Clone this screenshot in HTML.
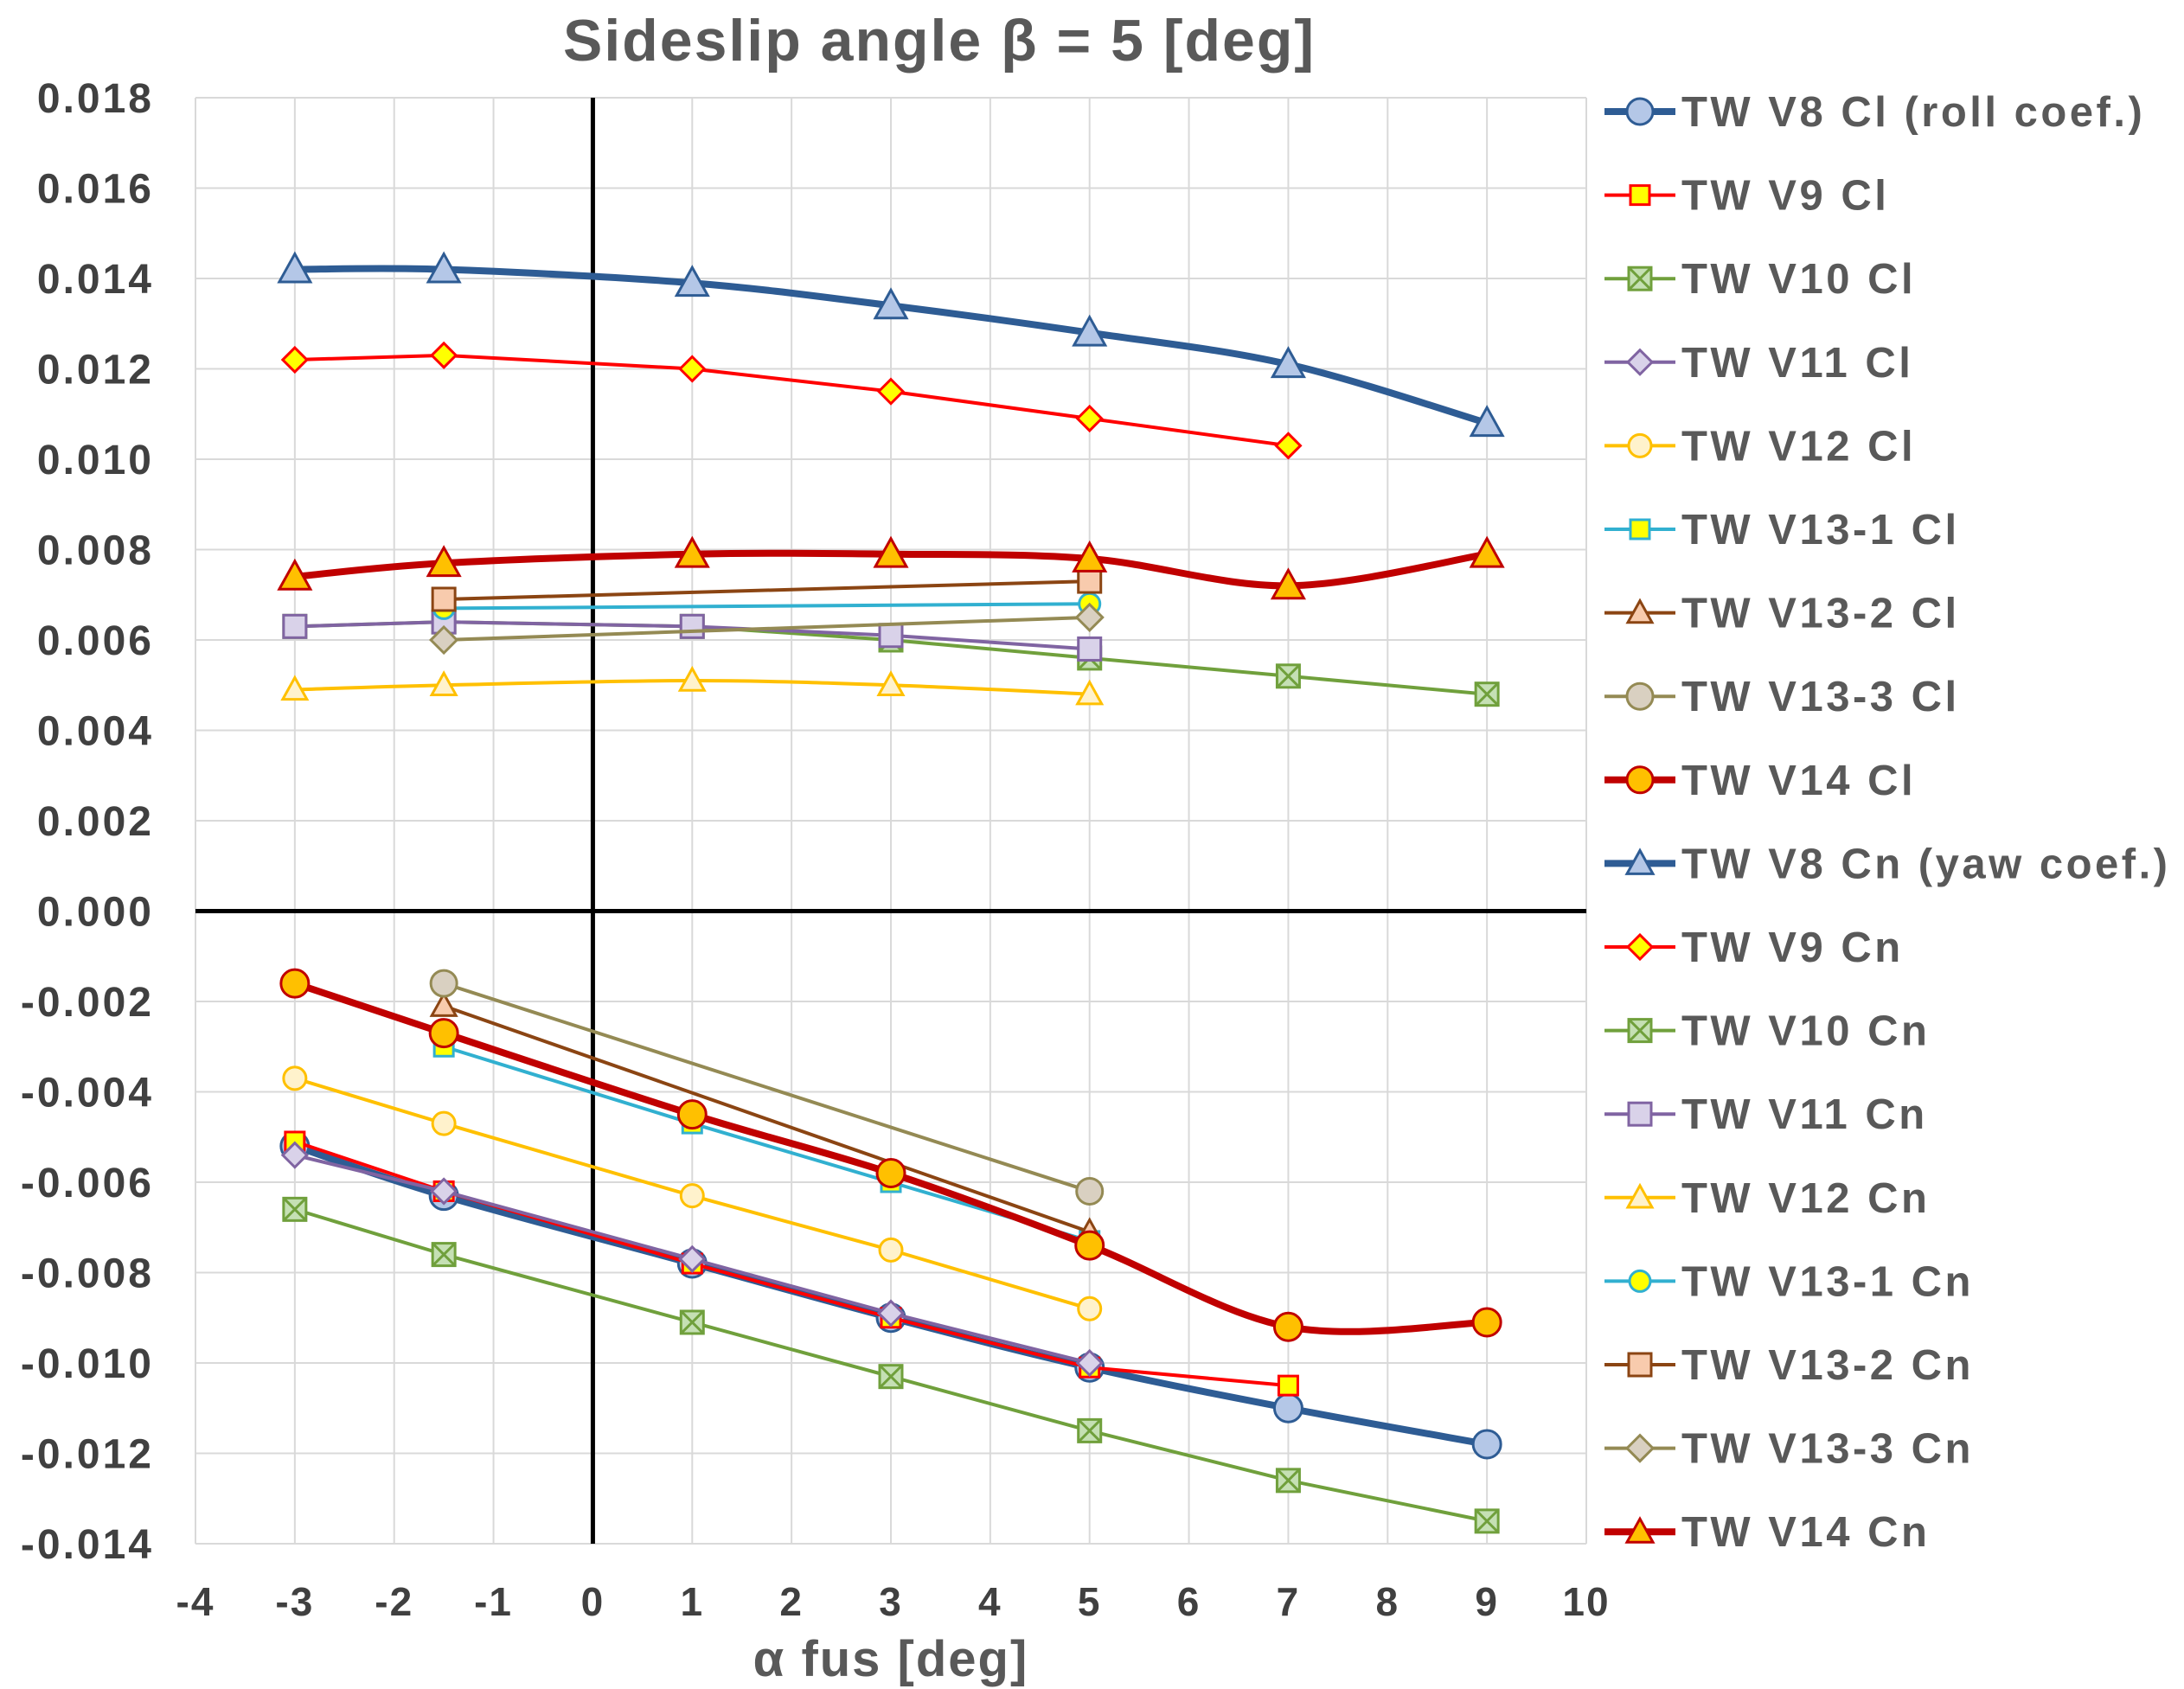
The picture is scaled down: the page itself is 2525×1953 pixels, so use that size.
<!DOCTYPE html>
<html><head><meta charset="utf-8"><style>
html,body{margin:0;padding:0;background:#fff;}
svg{display:block;font-family:"Liberation Sans",sans-serif;}
</style></head><body>
<svg id="chart" width="2525" height="1953" viewBox="0 0 2525 1953" xmlns="http://www.w3.org/2000/svg">
<text x="1086" y="70" font-size="68" font-weight="bold" fill="#595959" text-anchor="middle" letter-spacing="2">Sideslip angle β = 5 [deg]</text>
<text x="1030" y="1938" font-size="58" font-weight="bold" fill="#595959" text-anchor="middle" letter-spacing="2">α fus [deg]</text>
<g id="grid"></g><g id="series"></g><g id="legend"></g>
</svg>
<script>
const xTicks=[-4,-3,-2,-1,0,1,2,3,4,5,6,7,8,9,10];
const yTicks=[0.018,0.016,0.014,0.012,0.010,0.008,0.006,0.004,0.002,0.000,-0.002,-0.004,-0.006,-0.008,-0.010,-0.012,-0.014];
const seriesNames=["TW V8 Cl (roll coef.)","TW V9 Cl","TW V10 Cl","TW V11 Cl","TW V12 Cl","TW V13-1 Cl","TW V13-2 Cl","TW V13-3 Cl","TW V14 Cl","TW V8 Cn (yaw coef.)","TW V9 Cn","TW V10 Cn","TW V11 Cn","TW V12 Cn","TW V13-1 Cn","TW V13-2 Cn","TW V13-3 Cn","TW V14 Cn"];
const xV8Cl=[-3,-1.5,1,3,5,7,9];  const yV8Cl=[-0.0052,-0.0063,-0.0078,-0.0090,-0.0101,-0.0110,-0.0118];
const xV9Cl=[-3,-1.5,1,3,5,7];    const yV9Cl=[-0.0051,-0.0062,-0.0078,-0.0090,-0.0101,-0.0105];
const xV10Cl=[-3,-1.5,1,3,5,7,9]; const yV10Cl=[-0.0066,-0.0076,-0.0091,-0.0103,-0.0115,-0.0126,-0.0135];
const xV11Cl=[-3,-1.5,1,3,5];     const yV11Cl=[-0.0054,-0.0062,-0.0077,-0.0089,-0.0100];
const xV12Cl=[-3,-1.5,1,3,5];     const yV12Cl=[-0.0037,-0.0047,-0.0063,-0.0075,-0.0088];
const xV131Cl=[-1.5,1,3,5];       const yV131Cl=[-0.0030,-0.0047,-0.0060,-0.0073];
const xV132Cl=[-1.5,5];           const yV132Cl=[-0.0021,-0.0071];
const xV133Cl=[-1.5,5];           const yV133Cl=[-0.0016,-0.0062];
const xV14Cl=[-3,-1.5,1,3,5,7,9]; const yV14Cl=[-0.0016,-0.0027,-0.0045,-0.0058,-0.0074,-0.0092,-0.0091];
const xV8Cn=[-3,-1.5,1,3,5,7,9];  const yV8Cn=[0.0142,0.0142,0.0139,0.0134,0.0128,0.0121,0.0108];
const xV9Cn=[-3,-1.5,1,3,5,7];    const yV9Cn=[0.0122,0.0123,0.0120,0.0115,0.0109,0.0103];
const xV10Cn=[-3,-1.5,1,3,5,7,9]; const yV10Cn=[0.0063,0.0064,0.0063,0.0060,0.0056,0.0052,0.0048];
const xV11Cn=[-3,-1.5,1,3,5];     const yV11Cn=[0.0063,0.0064,0.0063,0.0061,0.0058];
const xV12Cn=[-3,-1.5,1,3,5];     const yV12Cn=[0.0049,0.0050,0.0051,0.0050,0.0048];
const xV131Cn=[-1.5,5];           const yV131Cn=[0.0067,0.0068];
const xV132Cn=[-1.5,5];           const yV132Cn=[0.0069,0.0073];
const xV133Cn=[-1.5,5];           const yV133Cn=[0.0060,0.0065];
const xV14Cn=[-3,-1.5,1,3,5,7,9]; const yV14Cn=[0.0074,0.0077,0.0079,0.0079,0.0078,0.0072,0.0079];

const L=226,R=1834,T=113,B=1785;
const X=v=>L+(v+4)/14*(R-L);
const Y=v=>T+(0.018-v)/0.032*(B-T);
const NS="http://www.w3.org/2000/svg";
function mk(tag,attrs,parent){const e=document.createElementNS(NS,tag);for(const k in attrs)e.setAttribute(k,attrs[k]);parent.appendChild(e);return e;}
const grid=document.getElementById('grid');
xTicks.forEach(t=>{
  const l=mk('line',{x1:X(t),x2:X(t),y1:T,y2:B,stroke:'#d9d9d9','stroke-width':2},grid);
  
  
  const tx=mk('text',{x:X(t),y:1868,'font-size':46,'font-weight':'bold',fill:'#404040','text-anchor':'middle','letter-spacing':2},grid);
  tx.textContent=t;
  
  
});
yTicks.forEach(t=>{
  const l=mk('line',{x1:L,x2:R,y1:Y(t),y2:Y(t),stroke:'#d9d9d9','stroke-width':2},grid);
  
  
  const tx=mk('text',{x:178,y:Y(t)+17,'font-size':48,'font-weight':'bold',fill:'#404040','text-anchor':'end','letter-spacing':3},grid);
  tx.textContent=t.toFixed(3);
  
  
});
const ax1=mk('line',{x1:X(0),x2:X(0),y1:T,y2:B,stroke:'#000','stroke-width':5},grid);


const ax2=mk('line',{x1:L,x2:R,y1:Y(0),y2:Y(0),stroke:'#000','stroke-width':5},grid);



const styles=[
 {xs:xV8Cl,ys:yV8Cl,c:'#2e5c94',w:8,m:'circle',f:'#b4c7e7',s:32,sm:true},
 {xs:xV9Cl,ys:yV9Cl,c:'#ff0000',w:4,m:'square',f:'#ffff00',s:22},
 {xs:xV10Cl,ys:yV10Cl,c:'#70a03c',w:4,m:'xsq',f:'#c5e0b4',s:26},
 {xs:xV11Cl,ys:yV11Cl,c:'#8064a2',w:4,m:'diamond',f:'#d9d2e9',s:28},
 {xs:xV12Cl,ys:yV12Cl,c:'#ffc000',w:4,m:'circle',f:'#fff2cc',s:26},
 {xs:xV131Cl,ys:yV131Cl,c:'#31b0d0',w:4,m:'square',f:'#ffff00',s:22},
 {xs:xV132Cl,ys:yV132Cl,c:'#8b4513',w:4,m:'triangle',f:'#f8cbad',s:28},
 {xs:xV133Cl,ys:yV133Cl,c:'#948a54',w:4,m:'circle',f:'#d9d0c1',s:30},
 {xs:xV14Cl,ys:yV14Cl,c:'#c00000',w:8,m:'circle',f:'#ffc000',s:32,sm:true},
 {xs:xV8Cn,ys:yV8Cn,c:'#2e5c94',w:8,m:'triangle',f:'#b4c7e7',s:36,sm:true},
 {xs:xV9Cn,ys:yV9Cn,c:'#ff0000',w:4,m:'diamond',f:'#ffff00',s:28},
 {xs:xV10Cn,ys:yV10Cn,c:'#70a03c',w:4,m:'xsq',f:'#c5e0b4',s:26},
 {xs:xV11Cn,ys:yV11Cn,c:'#8064a2',w:4,m:'square',f:'#d9d2e9',s:26},
 {xs:xV12Cn,ys:yV12Cn,c:'#ffc000',w:4,m:'triangle',f:'#fff2cc',s:28,sm:true},
 {xs:xV131Cn,ys:yV131Cn,c:'#31b0d0',w:4,m:'circle',f:'#ffff00',s:24},
 {xs:xV132Cn,ys:yV132Cn,c:'#8b4513',w:4,m:'square',f:'#f8cbad',s:26},
 {xs:xV133Cn,ys:yV133Cn,c:'#948a54',w:4,m:'diamond',f:'#d9d0c1',s:30},
 {xs:xV14Cn,ys:yV14Cn,c:'#c00000',w:8,m:'triangle',f:'#ffc000',s:36,sm:true}
];
function pathD(pts,smooth){
  if(!smooth||pts.length<3) return 'M'+pts.map(p=>p[0]+','+p[1]).join('L');
  let d='M'+pts[0][0]+','+pts[0][1];
  for(let i=0;i<pts.length-1;i++){
    const p0=pts[i-1]||pts[i],p1=pts[i],p2=pts[i+1],p3=pts[i+2]||p2;
    const c1=[p1[0]+(p2[0]-p0[0])/6,p1[1]+(p2[1]-p0[1])/6];
    const c2=[p2[0]-(p3[0]-p1[0])/6,p2[1]-(p3[1]-p1[1])/6];
    d+='C'+c1+' '+c2+' '+p2;
  }
  return d;
}
function marker(g,type,cx,cy,s,fill,stroke){
  const h=s/2;let e;
  if(type==='circle') e=mk('circle',{cx:cx,cy:cy,r:h,fill:fill,stroke:stroke,'stroke-width':3},g);
  else if(type==='square') e=mk('rect',{x:cx-h,y:cy-h,width:s,height:s,fill:fill,stroke:stroke,'stroke-width':3},g);
  else if(type==='diamond') e=mk('polygon',{points:`${cx},${cy-h} ${cx+h},${cy} ${cx},${cy+h} ${cx-h},${cy}`,fill:fill,stroke:stroke,'stroke-width':3},g);
  else if(type==='triangle') e=mk('polygon',{points:`${cx},${cy-h} ${cx+h},${cy+h*0.8} ${cx-h},${cy+h*0.8}`,fill:fill,stroke:stroke,'stroke-width':3},g);
  else {
    e=mk('rect',{x:cx-h,y:cy-h,width:s,height:s,fill:fill,stroke:stroke,'stroke-width':3},g);
    mk('path',{d:`M${cx-h},${cy-h}L${cx+h},${cy+h}M${cx+h},${cy-h}L${cx-h},${cy+h}`,stroke:stroke,'stroke-width':3},g);
  }
  return e;
}
const sg=document.getElementById('series');
styles.forEach((st,i)=>{
  const g=mk('g',{},sg);
  
  
  const pts=st.xs.map((x,j)=>[X(x),Y(st.ys[j])]);
  const p=mk('path',{d:pathD(pts,st.sm),fill:'none',stroke:st.c,'stroke-width':st.w,'stroke-linejoin':'round'},g);
  
  
  pts.forEach(pt=>{
    const m=marker(g,st.m,pt[0],pt[1],st.s,st.f,st.c);
    
    
  });
});
const lg=document.getElementById('legend');
styles.forEach((st,i)=>{
  const y=129+i*96.6;
  const g=mk('g',{},lg);
  
  
  mk('line',{x1:1855,x2:1937,y1:y,y2:y,stroke:st.c,'stroke-width':st.w},g);
  marker(g,st.m,1896,y,Math.min(st.s,30),st.f,st.c);
  const t=mk('text',{x:1944,y:y+17,'font-size':49,'font-weight':'bold',fill:'#595959','letter-spacing':3.5},g);
  t.textContent=seriesNames[i];
});
</script>
</body></html>
